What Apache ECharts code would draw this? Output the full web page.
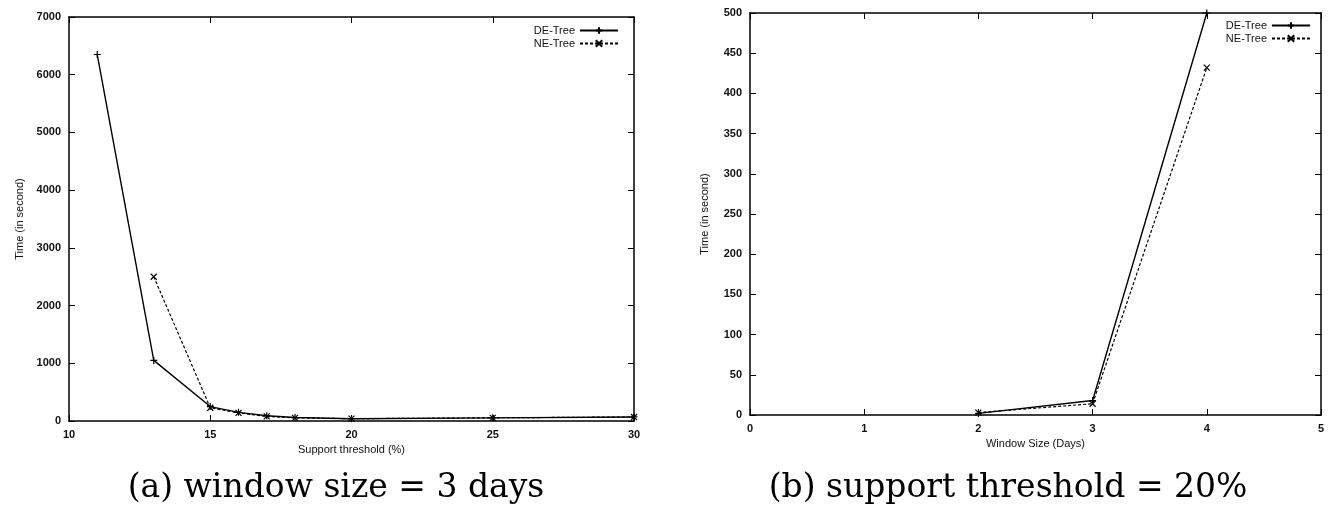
<!DOCTYPE html>
<html>
<head>
<meta charset="utf-8">
<script src="https://cdn.jsdelivr.net/npm/echarts@6/dist/echarts.min.js"></script>
<style>html,body{margin:0;padding:0;background:#fff}#c{width:1328px;height:517px}</style>
</head>
<body>
<div id="c"></div>
<script>
// (a) window size = 3 days
const supportDE = [11, 13, 15, 16, 17, 18, 20, 25, 30];
const timeDE_a  = [6350, 1050, 250, 150, 90, 60, 40, 55, 70];
const supportNE = [13, 15, 16, 17, 18, 20, 25, 30];
const timeNE_a  = [2500, 230, 140, 80, 55, 40, 55, 70];
// (b) support threshold = 20%
const windowDays = [2, 3, 4];
const timeDE_b   = [2, 18, 500];
const timeNE_b   = [3, 14, 432];
const titles = ['(a) window size = 3 days', '(b) support threshold = 20%'];

const plusSym = 'path://M0,5 L10,5 M5,0 L5,10';
const crossSym = 'path://M0,0 L10,10 M10,0 L0,10';
const font = 'Liberation Sans, Arial, sans-serif';
const lbl = {color:'#111', fontSize:11, fontWeight:'bold', fontFamily:font};
const nameLbl = {color:'#111', fontSize:11, fontFamily:font};

function zip(a,b){return a.map((v,i)=>[v,b[i]]);}

function axes(gi, min, max, interval, isX, name, nameGap){
  const main = {
    type:'value', gridIndex:gi, min:min, max:max, interval:interval,
    axisLine:{show:true, onZero:false, lineStyle:{color:'#000', width:1.5}},
    axisTick:{show:true, inside:true, length:6, lineStyle:{color:'#000'}},
    axisLabel:Object.assign({margin:8, formatter:(v)=>String(v)}, lbl),
    splitLine:{show:false},
    name:name, nameLocation:'middle', nameGap:nameGap,
    nameTextStyle:nameLbl
  };
  main.position = isX ? 'bottom' : 'left';
  const mirror = {
    type:'value', gridIndex:gi, min:min, max:max, interval:interval,
    position: isX ? 'top' : 'right',
    axisLine:{show:true, onZero:false, lineStyle:{color:'#000', width:1.5}},
    axisTick:{show:true, inside:true, length:6, lineStyle:{color:'#000'}},
    axisLabel:{show:false}, splitLine:{show:false}
  };
  return [main, mirror];
}

const xA = axes(0, 10, 30, 5, true, 'Support threshold (%)', 22);
const yA = axes(0, 0, 7000, 1000, false, 'Time (in second)', 44);
const xB = axes(1, 0, 5, 1, true, 'Window Size (Days)', 22);
const yB = axes(1, 0, 500, 50, false, 'Time (in second)', 40);

function de(data, xi, yi){
  return {name:'DE-Tree', type:'line', xAxisIndex:xi, yAxisIndex:yi, data:data,
    symbol:plusSym, symbolSize:7, showSymbol:true,
    lineStyle:{color:'#000', width:1.4, type:'solid'},
    itemStyle:{color:'#000', borderColor:'#000', borderWidth:1.2},
    animation:false};
}
function ne(data, xi, yi){
  return {name:'NE-Tree', type:'line', xAxisIndex:xi, yAxisIndex:yi, data:data,
    symbol:crossSym, symbolSize:6, showSymbol:true,
    lineStyle:{color:'#000', width:1.2, type:[3,2]},
    itemStyle:{color:'#000', borderColor:'#000', borderWidth:1.2},
    animation:false};
}

const titleStyle = {fontFamily:'DejaVu Serif, Liberation Serif, serif', fontWeight:'normal', fontSize:33, color:'#000'};

const chart = echarts.init(document.getElementById('c'), null, {renderer:'canvas'});
chart.setOption({
  backgroundColor:'#fff',
  animation:false,
  grid:[
    {left:69, right:694, top:17, bottom:96},
    {left:750, right:7, top:13, bottom:102}
  ],
  xAxis:[xA[0], xA[1], xB[0], xB[1]],
  yAxis:[yA[0], yA[1], yB[0], yB[1]],
  legend:[
    {data:['DE-Tree','NE-Tree'], right:704, top:20, orient:'vertical', align:'right',
     itemWidth:38, itemHeight:8, itemGap:2, textStyle:nameLbl},
    {data:['DE-Tree','NE-Tree'], right:12, top:15, orient:'vertical', align:'right',
     itemWidth:38, itemHeight:8, itemGap:2, textStyle:nameLbl}
  ],
  title:[
    {text:titles[0], left:331, top:467, textAlign:'center', textStyle:titleStyle},
    {text:titles[1], left:1003, top:467, textAlign:'center', textStyle:titleStyle}
  ],
  series:[
    de(zip(supportDE, timeDE_a), 0, 0),
    ne(zip(supportNE, timeNE_a), 0, 0),
    de(zip(windowDays, timeDE_b), 2, 2),
    ne(zip(windowDays, timeNE_b), 2, 2)
  ]
});
</script>
</body>
</html>
